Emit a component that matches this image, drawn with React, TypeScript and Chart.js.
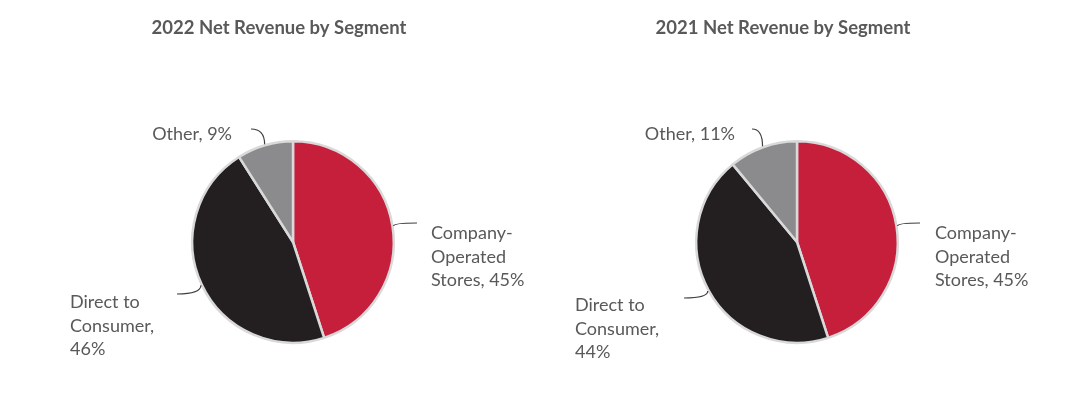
import React, { useEffect, useRef } from "react";
import { Chart, registerables } from "chart.js";

Chart.register(...registerables);

// ---- Data ----
const categories = ["Company-Operated Stores", "Direct to Consumer", "Other"];
const values2022 = [45, 46, 9];
const values2021 = [45, 44, 11];
const chartTitles = ["2022 Net Revenue by Segment", "2021 Net Revenue by Segment"];
// wrapped label templates per category ({v} = value)
const labelTemplates = [
  ["Company-", "Operated", "Stores, {v}%"],
  ["Direct to", "Consumer,", "{v}%"],
  ["Other, {v}%"],
];
const sliceColors = ["#C51F3C", "#231F20", "#8B8B8D"];

// ---- Layout / style (relative to pie centre) ----
const FONT = "Lato, 'Open Sans', sans-serif";
const TEXT_COLOR = "#595959";
const LINE_COLOR = "#3F3F3F";
const LINE_H = 23.5;

type LabelLayout = { tx: number; ty: number; align: CanvasTextAlign; ex: number; ey: number };
type ChartLayout = {
  padding: { left: number; right: number; top: number; bottom: number };
  titleDx: number;
  titleY: number;
  labels: LabelLayout[];
};

const layout2022: ChartLayout = {
  padding: { left: 183, right: 141, top: 132, bottom: 42 },
  titleDx: -14,
  titleY: 26,
  labels: [
    { tx: 138, ty: -3, align: "left", ex: 124, ey: -19 },
    { tx: -223, ty: 66, align: "left", ex: -116, ey: 52 },
    { tx: -61, ty: -102, align: "right", ex: -42, ey: -113 },
  ],
};

const layout2021: ChartLayout = {
  padding: { left: 159, right: 165, top: 132, bottom: 42 },
  titleDx: -14,
  titleY: 26,
  labels: [
    { tx: 138, ty: -3, align: "left", ex: 123, ey: -19 },
    { tx: -222, ty: 69, align: "left", ex: -113, ey: 56 },
    { tx: -62, ty: -102, align: "right", ex: -45, ey: -113 },
  ],
};

function PieChart({ values, title, layout }: { values: number[]; title: string; layout: ChartLayout }) {
  const ref = useRef<HTMLCanvasElement>(null);

  useEffect(() => {
    const labelPlugin = {
      id: "segmentLabels",
      afterDraw(chart: any) {
        const ctx: CanvasRenderingContext2D = chart.ctx;
        const meta = chart.getDatasetMeta(0);
        const arcs = meta.data;
        if (!arcs.length) return;
        const first = arcs[0];
        const cx = first.x;
        const cy = first.y;
        ctx.save();
        // title
        ctx.fillStyle = TEXT_COLOR;
        ctx.font = `bold 18.5px ${FONT}`;
        ctx.textAlign = "center";
        ctx.textBaseline = "alphabetic";
        ctx.fillText(title, cx + layout.titleDx, layout.titleY);

        arcs.forEach((arc: any, i: number) => {
          const lay = layout.labels[i];
          const mid = (arc.startAngle + arc.endAngle) / 2;
          const r = arc.outerRadius + 1;
          const px = cx + Math.cos(mid) * r;
          const py = cy + Math.sin(mid) * r;
          const ex = cx + lay.ex;
          const ey = cy + lay.ey;
          ctx.strokeStyle = LINE_COLOR;
          ctx.lineWidth = 1.2;
          ctx.beginPath();
          ctx.moveTo(px, py);
          ctx.quadraticCurveTo(px, ey, ex, ey);
          ctx.stroke();

          ctx.fillStyle = TEXT_COLOR;
          ctx.font = `18px ${FONT}`;
          ctx.textAlign = lay.align;
          ctx.textBaseline = "alphabetic";
          const lines = labelTemplates[i].map((t) => t.replace("{v}", String(values[i])));
          lines.forEach((ln, j) => {
            ctx.fillText(ln, cx + lay.tx, cy + lay.ty + j * LINE_H);
          });
        });
        ctx.restore();
      },
    };

    const chart = new Chart(ref.current as HTMLCanvasElement, {
      type: "pie",
      data: {
        labels: categories,
        datasets: [
          {
            data: values,
            backgroundColor: sliceColors,
            borderColor: "#D9D9D9",
            borderWidth: 2.5,
          },
        ],
      },
      options: {
        responsive: false,
        animation: false,
        layout: { padding: layout.padding },
        plugins: {
          legend: { display: false },
          tooltip: { enabled: false },
          title: { display: false },
        },
      },
      plugins: [labelPlugin],
    });
    return () => chart.destroy();
  }, [values, title, layout]);

  return <canvas ref={ref} width={528} height={378} style={{ display: "block" }} />;
}

export default function App() {
  return (
    <div style={{ display: "flex", width: 1056, height: 378, background: "#ffffff" }}>
      <PieChart values={values2022} title={chartTitles[0]} layout={layout2022} />
      <PieChart values={values2021} title={chartTitles[1]} layout={layout2021} />
    </div>
  );
}
